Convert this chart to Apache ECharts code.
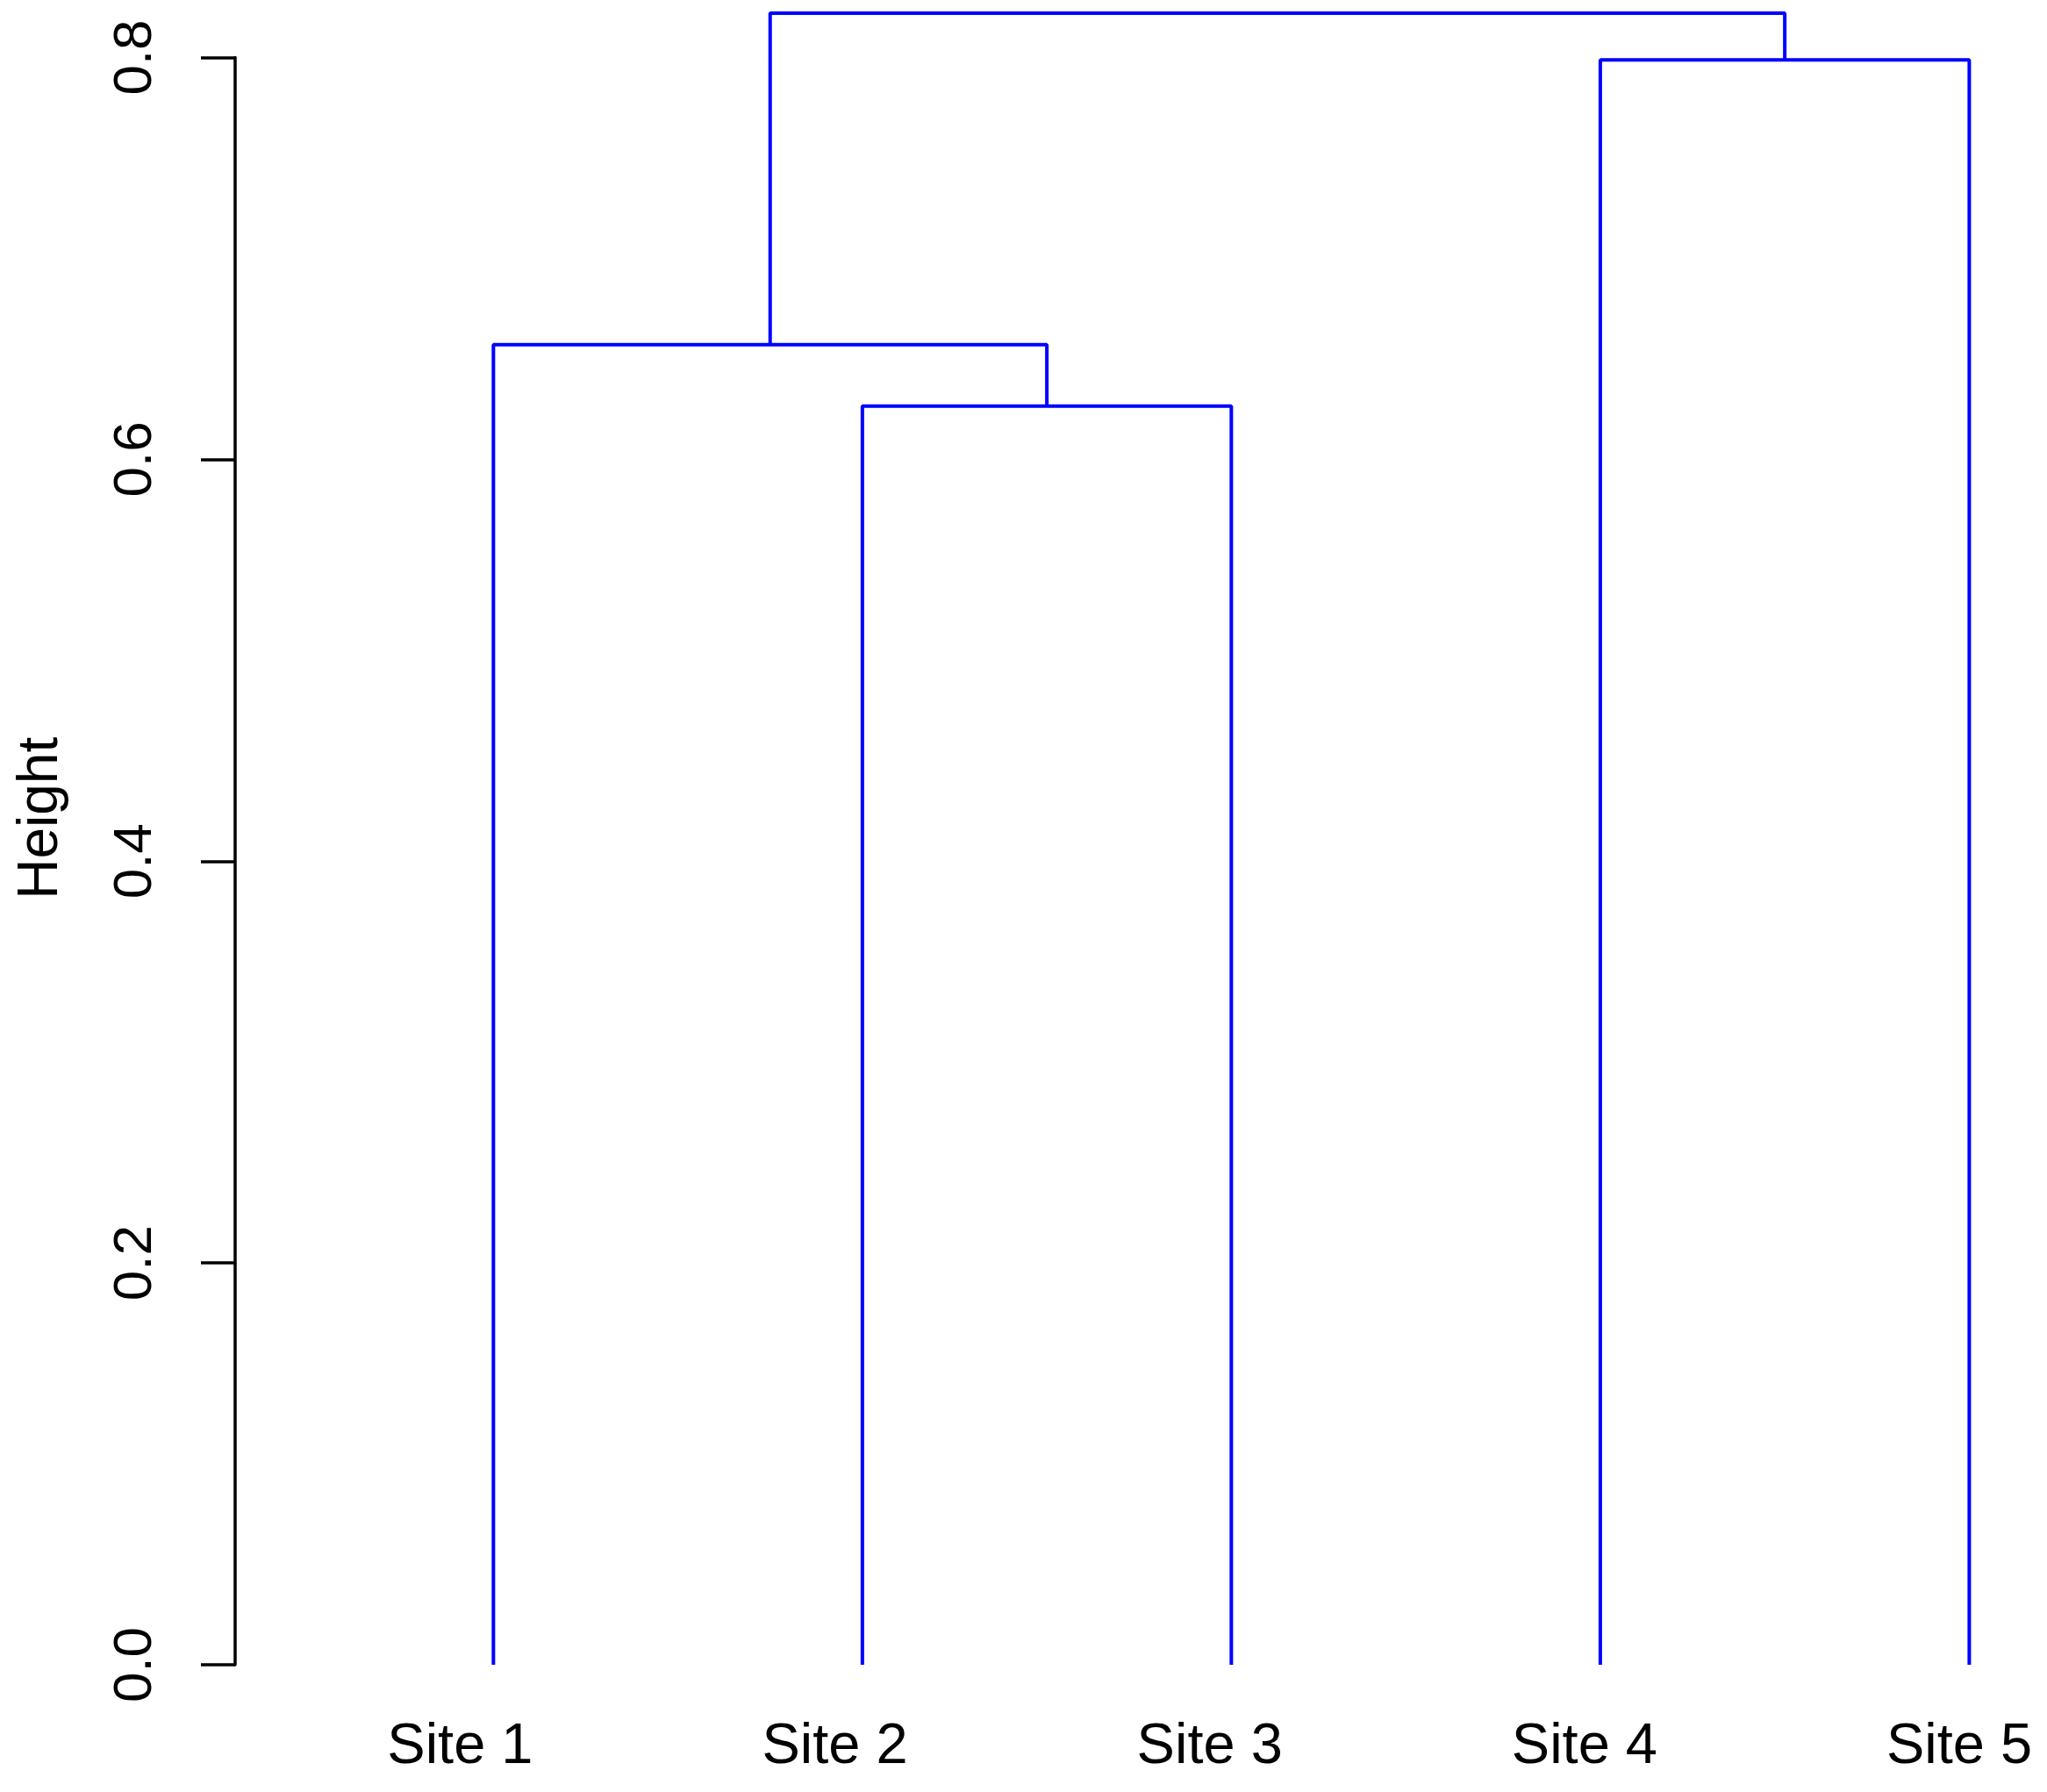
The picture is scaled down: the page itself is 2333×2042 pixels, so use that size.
<!DOCTYPE html>
<html>
<head>
<meta charset="utf-8">
<script src="https://cdn.jsdelivr.net/npm/echarts@6/dist/echarts.min.js"></script>
<style>
  html, body { margin: 0; padding: 0; background: #ffffff; }
  #chart { width: 2333px; height: 2042px; }
</style>
</head>
<body>
<div id="chart"></div>
<script>
// leaves in plotting order
const sites = ['Site 1', 'Site 2', 'Site 3', 'Site 4', 'Site 5']
const leafPos = [1, 2, 3, 4, 5]

// hclust-style merges: negative = leaf, positive = earlier merge (1-based)
const merges = [[-2, -3], [-1, 1], [-4, -5], [2, 3]]
const mergeHeights = [0.6265, 0.6571, 0.7988, 0.8221]

const yTicks = [0, 0.2, 0.4, 0.6, 0.8]

const font = '"Liberation Sans", Arial, Helvetica, sans-serif'
const treeColor = '#0000ff'

// x and y of a node (leaf or merge)
const nodeX = (id) => id < 0 ? leafPos[-id - 1] : mergeX[id - 1]
const nodeY = (id) => id < 0 ? 0 : mergeHeights[id - 1]

const mergeX = []
merges.forEach(([a, b]) => {
  mergeX.push((nodeX(a) + nodeX(b)) / 2)
})

const treeSeries = merges.map(([a, b], i) => ({
  type: 'line',
  xAxisIndex: 0,
  yAxisIndex: 0,
  data: [
    [nodeX(a), nodeY(a)],
    [nodeX(a), mergeHeights[i]],
    [nodeX(b), mergeHeights[i]],
    [nodeX(b), nodeY(b)]
  ],
  showSymbol: false,
  symbol: 'none',
  clip: false,
  silent: true,
  lineStyle: { color: treeColor, width: 4 }
}))

const chart = echarts.init(document.getElementById('chart'), null, { renderer: 'canvas' })

chart.setOption({
  backgroundColor: '#ffffff',
  animation: false,
  grid: [
    { left: 268, right: 4.5, top: 65.5, bottom: 145 },
    // label grid: the leaf labels sit on a slightly wider spacing than the leaves
    { left: 97.25, right: 0, top: 65.5, bottom: 145 }
  ],
  xAxis: [
    {
      type: 'value',
      gridIndex: 0,
      min: 0.3,
      max: 5.2,
      show: false
    },
    {
      type: 'value',
      gridIndex: 1,
      min: 0,
      max: 5.227,
      interval: 1,
      axisLine: { show: false },
      axisTick: { show: false },
      splitLine: { show: false },
      axisLabel: {
        margin: 62,
        fontSize: 65,
        fontFamily: font,
        color: '#000',
        showMinLabel: false,
        formatter: (v) => (Number.isInteger(v) && v >= 1 && v <= sites.length) ? sites[v - 1] : ''
      }
    }
  ],
  yAxis: [
    {
      type: 'value',
      gridIndex: 0,
      min: yTicks[0],
      max: yTicks[yTicks.length - 1],
      interval: 0.2,
      name: 'Height',
      nameLocation: 'middle',
      nameRotate: 90,
      nameGap: 189,
      nameTextStyle: { fontSize: 64, fontFamily: font, color: '#000', padding: [0, 0, 0, 98] },
      axisLine: { show: true, onZero: false, lineStyle: { color: '#000', width: 3.5 } },
      axisTick: { show: true, length: 39, lineStyle: { color: '#000', width: 3.5 } },
      splitLine: { show: false },
      axisLabel: {
        rotate: 90,
        margin: 82,
        fontSize: 62,
        fontFamily: font,
        color: '#000',
        formatter: (v) => v.toFixed(1)
      }
    },
    {
      type: 'value',
      gridIndex: 1,
      min: 0,
      max: 0.8,
      show: false
    }
  ],
  series: treeSeries
})
</script>
</body>
</html>
